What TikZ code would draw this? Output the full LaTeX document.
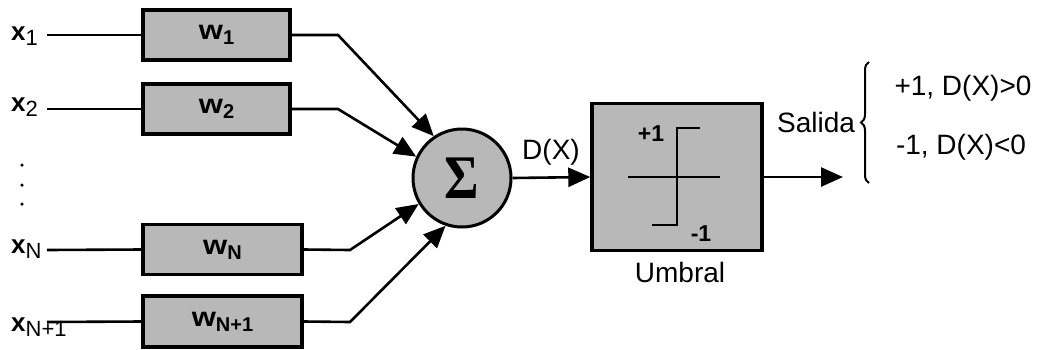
\documentclass[tikz,border=0pt]{standalone}
\usepackage{fontspec}
\setmainfont{Liberation Sans}
\newfontfamily\sigmafont{Liberation Serif}
\usetikzlibrary{arrows.meta,decorations.pathreplacing,calc}
\definecolor{halftone}{gray}{0.72}
% lowered, smaller index set after a letter
\newcommand\xidx[1]{\raisebox{-5pt}{\fontsize{22}{22}\selectfont\mdseries #1}}
\newcommand\widx[1]{\raisebox{-5pt}{\fontsize{20}{20}\selectfont\bfseries #1}}
\newcommand\wletter{\scalebox{1.15}[1]{w}}
\tikzset{
  conn/.style={line width=2.6pt},
  arr/.style={conn, -{Triangle[length=22pt,width=19pt]}},
  wbox/.style={draw=black, fill=halftone, line width=3.4pt, minimum height=50pt,
    inner sep=0pt, font=\fontsize{27}{29}\selectfont\bfseries},
  xlbl/.style={inner sep=0pt, anchor=base west, font=\fontsize{26}{28}\selectfont\bfseries},
  txt/.style={inner sep=0pt, font=\fontsize{28}{32}\selectfont},
  small/.style={inner sep=0pt, font=\fontsize{23}{25}\selectfont\bfseries},
  dotmark/.style={fill=black, circle, inner sep=0pt, minimum size=3.5pt},
}
\begin{document}
\begin{tikzpicture}[x=1pt,y=-1pt]
\useasboundingbox (0,0) rectangle (1038,349);

% input labels
\node[xlbl] (x1)  at (11,40)  {x\xidx{1}};
\node[xlbl] (x2)  at (11,111) {x\xidx{2}};
\node[xlbl] (xN)  at (11,253) {x\xidx{N}};
\node[xlbl] (xN1) at (11,331) {x\xidx{N+1}};
\node[dotmark] (d1) at (22,165) {};
\node[dotmark] (d2) at (22,185) {};
\node[dotmark] (d3) at (22,204) {};

% line starts
\coordinate (in1)  at (47,35);
\coordinate (in2)  at (47,109);
\coordinate (inN)  at (47,250);
\coordinate (inN1) at (47,322);

% weight boxes
\node[wbox, minimum width=147pt] (w1)  at (216.5,35)    {\wletter\widx{1}};
\node[wbox, minimum width=147pt] (w2)  at (216.5,109)   {\wletter\widx{2}};
\node[wbox, minimum width=159pt] (wN)  at (222.5,249.5) {\wletter\widx{N}};
\node[wbox, minimum width=159pt, minimum height=51pt] (wN1) at (222.5,321.5) {\wletter\widx{N+1}};

% summing junction
\node[circle, draw=black, fill=halftone, line width=3pt, minimum size=98pt,
      inner sep=0pt] (sig) at (462,178)
      {\sigmafont\bfseries\fontsize{62}{62}\selectfont\scalebox{0.85}[1]{Σ}};

% bends before the junction
\coordinate (b1)  at (338,35);
\coordinate (b2)  at (338,109);
\coordinate (bN)  at (350,250);
\coordinate (bN1) at (350,322);

\draw[conn] (in1)  -- (w1.west);
\draw[conn] (in2)  -- (w2.west);
\draw[conn] (inN)  -- (wN.west);
\draw[conn] (inN1) -- (wN1.west);

\draw[arr] (w1.east)  -- (b1)  -- (sig.124);
\draw[arr] (w2.east)  -- (b2)  -- (sig.155);
\draw[arr] (wN.east)  -- (bN)  -- (sig.211);
\draw[arr] (wN1.east) -- (bN1) -- (sig.251);

% threshold block
\node[draw=black, fill=halftone, line width=3.4pt, minimum width=170pt,
      minimum height=147pt, inner sep=0pt] (umb) at (677,177) {};
\draw[conn] (628,177) -- (720,177);
\draw[conn] (652,225) -- (677,225) -- (677,128) -- (700,128);
\node[small] (p1) at (651,134) {+1};
\node[small] (m1) at (701,234) {-1};
\node[txt] (umlbl) at (680,272) {Umbral};

\draw[arr] (sig.east) -- (umb.west);
\node[txt] (dx) at (551,152) {D(X)};

% output
\coordinate (out) at (843,177);
\draw[arr] (umb.east) -- (out);
\node[txt] (sal) at (816,122) {Salida};
\coordinate (br0) at (869,183);
\coordinate (br1) at (869,62);
\draw[line width=2pt, decorate, decoration={brace, amplitude=8pt}] (br0) -- (br1);
\node[txt] (c1) at (963,88)  {+1, D(X)>0};
\node[txt] (c2) at (961,147) {-1, D(X)<0};
\end{tikzpicture}
\end{document}
